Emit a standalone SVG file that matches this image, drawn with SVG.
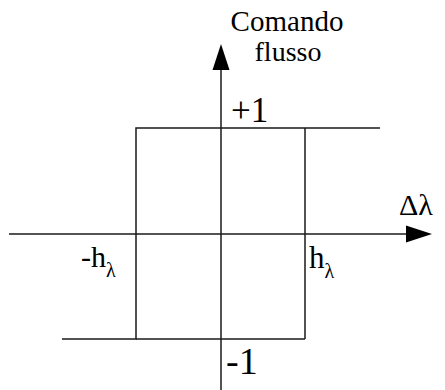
<svg xmlns="http://www.w3.org/2000/svg" width="445" height="390" viewBox="0 0 445 390">
<style>
.ln{stroke:#1a1a1a;stroke-width:1.5;fill:none}
.ah{fill:#000;stroke:none}
.t{font-family:'Liberation Serif',Tinos,'Noto Serif','DejaVu Serif','Times New Roman',Times,serif;fill:#000}
</style>
<rect width="445" height="390" fill="#fff"/>
<g id="connectors">
<line class="ln" x1="9" y1="234" x2="410" y2="234"/>
<polygon class="ah" points="432,234 406,225.5 406,242.5"/>
<line class="ln" x1="221" y1="390" x2="221" y2="66"/>
<polygon class="ah" points="221,44 212.5,70 229.5,70"/>
<polyline class="ln" points="380,128 136,128 136,339 62,339"/>
<line class="ln" x1="305" y1="128" x2="305" y2="339"/>
<line class="ln" x1="136" y1="339" x2="305" y2="339"/>
</g>
<g id="label-comando">
<text class="t" x="287" y="31" font-size="29" text-anchor="middle">Comando</text>
<text class="t" x="288" y="61" font-size="28" text-anchor="middle">flusso</text>
</g>
<g id="label-plus1"><text class="t" x="231" y="122" font-size="35">+1</text></g>
<g id="label-minus1"><text class="t" x="226" y="374" font-size="38">-1</text></g>
<g id="label-dlambda"><text class="t" x="399" y="215" font-size="30">Δλ</text></g>
<g id="label-minush"><text class="t" x="81" y="267" font-size="30">-h<tspan font-size="20" dy="10">λ</tspan></text></g>
<g id="label-h"><text class="t" x="309" y="268" font-size="31">h<tspan font-size="20" dy="10">λ</tspan></text></g>
</svg>
